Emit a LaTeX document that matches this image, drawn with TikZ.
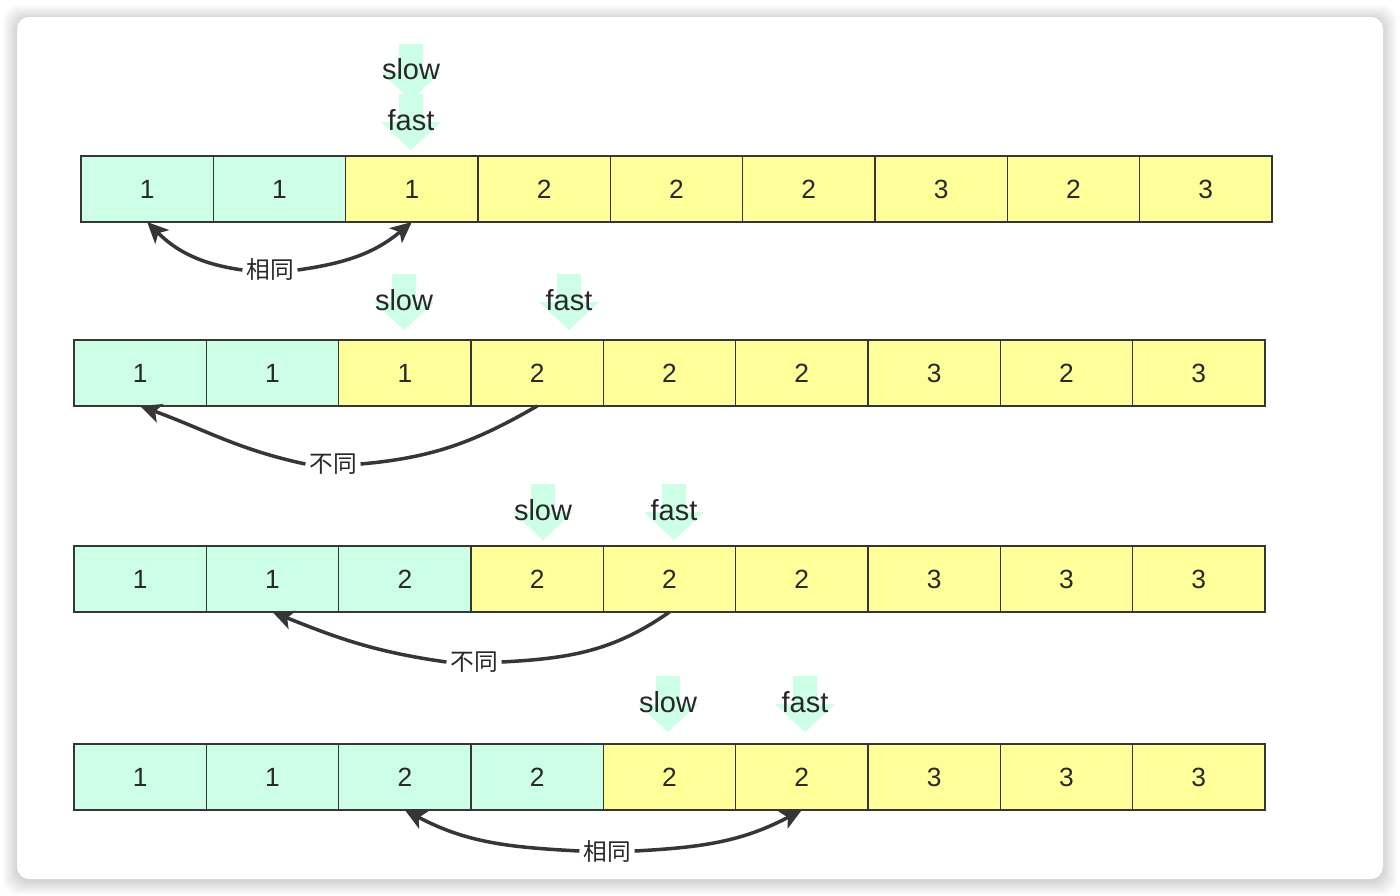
\documentclass[tikz,border=0pt]{standalone}
\usepackage{fontspec}
\setsansfont{Liberation Sans}
\newfontfamily\cjk{Noto Sans CJK SC}
\usetikzlibrary{arrows.meta}
\definecolor{cellgrn}{RGB}{204,255,230}
\definecolor{cellyel}{RGB}{255,255,153}
\definecolor{cellline}{RGB}{54,54,54}
\definecolor{mytext}{RGB}{40,40,40}
\definecolor{ptrgrn}{RGB}{204,255,230}
\tikzset{
  cell/.style={rectangle, draw=cellline, line width=0.85pt,
    minimum width=2.647cm, minimum height=1.32cm, inner sep=0pt, outer sep=0pt,
    font=\sffamily\fontsize{15}{15}\selectfont, text=mytext},
  ptrtext/.style={font=\sffamily\fontsize{16.5}{16.5}\selectfont, text=mytext, inner sep=1pt},
  tag/.style={font=\cjk\fontsize{13.5}{13.5}\selectfont, text=mytext, fill=white, inner sep=2pt},
  link/.style={line width=2pt, color=cellline, >={Stealth[length=12pt, width=11pt, inset=3pt]}},
  ptr/.pic={\fill[ptrgrn] (-12,0) -- (12,0) -- (12,28) -- (30,28) -- (0,56)
    -- (-30,28) -- (-12,28) -- cycle;}
}
\begin{document}
\begin{tikzpicture}[x=0.02cm, y=-0.02cm]
  \useasboundingbox (0,0) rectangle (1400,896);
  % card with soft shadow
  \foreach \k in {1,...,14}
    \fill[black, opacity=0.012, rounded corners=0.3cm] ({17-\k},{17-\k+2}) rectangle ({1383+\k},{879+\k+2});
  \fill[white, rounded corners=0.24cm] (17,17) rectangle (1383,879);

  % pointers
  \foreach \px/\py in {411/44, 411/94, 404/274, 569/274, 543/484, 674/484, 668/676, 805/676}
    \pic at (\px,\py) {ptr};

  % rows of cells
  \foreach \r/\x/\y/\g/\vals in {1/81/189/2/{1,1,1,2,2,2,3,2,3}, 2/74/373/2/{1,1,1,2,2,2,3,2,3},
      3/74/579/3/{1,1,2,2,2,2,3,3,3}, 4/74/777/4/{1,1,2,2,2,2,3,3,3}} {
    \foreach \v [count=\i] in \vals {
      \ifnum\i>\g \def\cc{cellyel}\else\def\cc{cellgrn}\fi
      \node[cell, fill=\cc] (r\r-\i) at ({\x+(\i-0.5)*132.33}, \y) {\v};
    }
  }

  % slow / fast labels
  \node[ptrtext] (slow1) at (411,69) {slow};
  \node[ptrtext] (fast1) at (411,120) {fast};
  \node[ptrtext] (slow2) at (404,300) {slow};
  \node[ptrtext] (fast2) at (569,300) {fast};
  \node[ptrtext] (slow3) at (543,510) {slow};
  \node[ptrtext] (fast3) at (674,510) {fast};
  \node[ptrtext] (slow4) at (668,702) {slow};
  \node[ptrtext] (fast4) at (805,702) {fast};

  % comparisons
  \node[tag] (same1) at (270,270) {相同};
  \draw[link, <-] (r1-1.south) to[out=-45, in=172] (same1.west);
  \draw[link, ->] (same1.east) to[out=8, in=-140] (r1-3.south);

  \node[tag] (diff2) at (333,464) {不同};
  \draw[link] (r2-4.south) to[out=-150, in=5] (diff2.east);
  \draw[link, ->] (diff2.west) to[out=168, in=-20] (r2-1.south);

  \node[tag] (diff3) at (474,662) {不同};
  \draw[link] (r3-5.south) to[out=-145, in=3] (diff3.east);
  \draw[link, ->] (diff3.west) to[out=172, in=-22] (r3-2.south);

  \node[tag] (same4) at (607,851) {相同};
  \draw[link, ->] (same4.west) to[out=177, in=-28] (r4-3.south);
  \draw[link, ->] (same4.east) to[out=3, in=-152] (r4-6.south);
\end{tikzpicture}
\end{document}
